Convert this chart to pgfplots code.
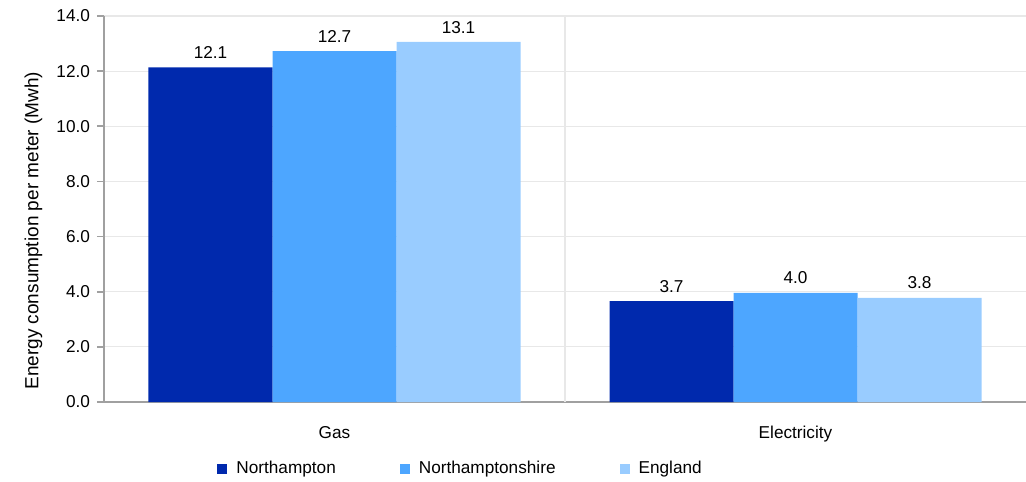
\documentclass[border=0pt]{standalone}
\usepackage{pgfplots}
\pgfplotsset{compat=1.18}
\usepackage{fontspec}
\setmainfont{Liberation Sans}
\definecolor{cA}{HTML}{0029AD}
\definecolor{cB}{HTML}{4DA6FF}
\definecolor{cC}{HTML}{99CCFF}
\definecolor{axgray}{HTML}{A0A0A0}
\definecolor{gridgray}{HTML}{E8E8E8}
\newcommand{\fs}{\fontsize{8.6}{10}\selectfont}
\begin{document}
\begin{tikzpicture}
\begin{axis}[
  at={(0,0)}, anchor=south west,
  scale only axis,
  width=461pt, height=193pt,
  xmin=-0.5, xmax=1.5,
  ymin=0, ymax=14,
  ybar=0pt, bar width=62pt,
  xtick={0,1}, xticklabels={Gas,Electricity},
  major x tick style={draw=none},
  extra x ticks={0.5}, extra x tick labels={},
  extra x tick style={grid=major, major grid style={gridgray, line width=0.6pt}, major tick length=4pt, tick style={axgray, line width=0.8pt}, tick align=outside},
  ytick={0,2,...,14},
  ymajorgrids, major grid style={gridgray, line width=0.6pt},
  axis x line*=bottom, axis y line*=left,
  axis line style={axgray, line width=0.8pt},
  tick style={axgray, line width=0.8pt},
  major tick length=3.5pt,
  tick align=outside,
  yticklabel style={/pgf/number format/fixed, /pgf/number format/fixed zerofill, /pgf/number format/precision=1},
  /pgf/number format/assume math mode=true,
  ticklabel style={font=\fs, black},
  xticklabel style={yshift=-5pt},
  ylabel={Energy consumption per meter (Mwh)},
  ylabel style={font=\fontsize{9.5}{11}\selectfont, at={(axis description cs:-0.0765,0.444)}, anchor=center},
  nodes near coords,
  nodes near coords style={font=\fs, black, /pgf/number format/fixed, /pgf/number format/fixed zerofill, /pgf/number format/precision=1, /pgf/number format/assume math mode=true, yshift=0.8pt},
  legend style={at={(axis description cs:0.1226,-0.1736)}, anchor=west, draw=none, fill=none, inner sep=0pt, font=\fs, legend columns=3, /tikz/every odd column/.append style={column sep=2.5pt}, /tikz/every even column/.append style={column sep=30pt}},
  legend image code/.code={\fill[#1] (0pt,-2.5pt) rectangle (5pt,2.5pt);},
  legend cell align=left,
]
\addplot[fill=cA, draw=none] coordinates {(0,12.14) (1,3.66)};
\addplot[fill=cB, draw=none] coordinates {(0,12.73) (1,3.96)};
\addplot[fill=cC, draw=none] coordinates {(0,13.06) (1,3.78)};
\legend{Northampton,Northamptonshire,England}
\end{axis}
\pgfresetboundingbox
\path (-52pt,-39.5pt) rectangle (461pt,201pt);
\end{tikzpicture}
\end{document}
